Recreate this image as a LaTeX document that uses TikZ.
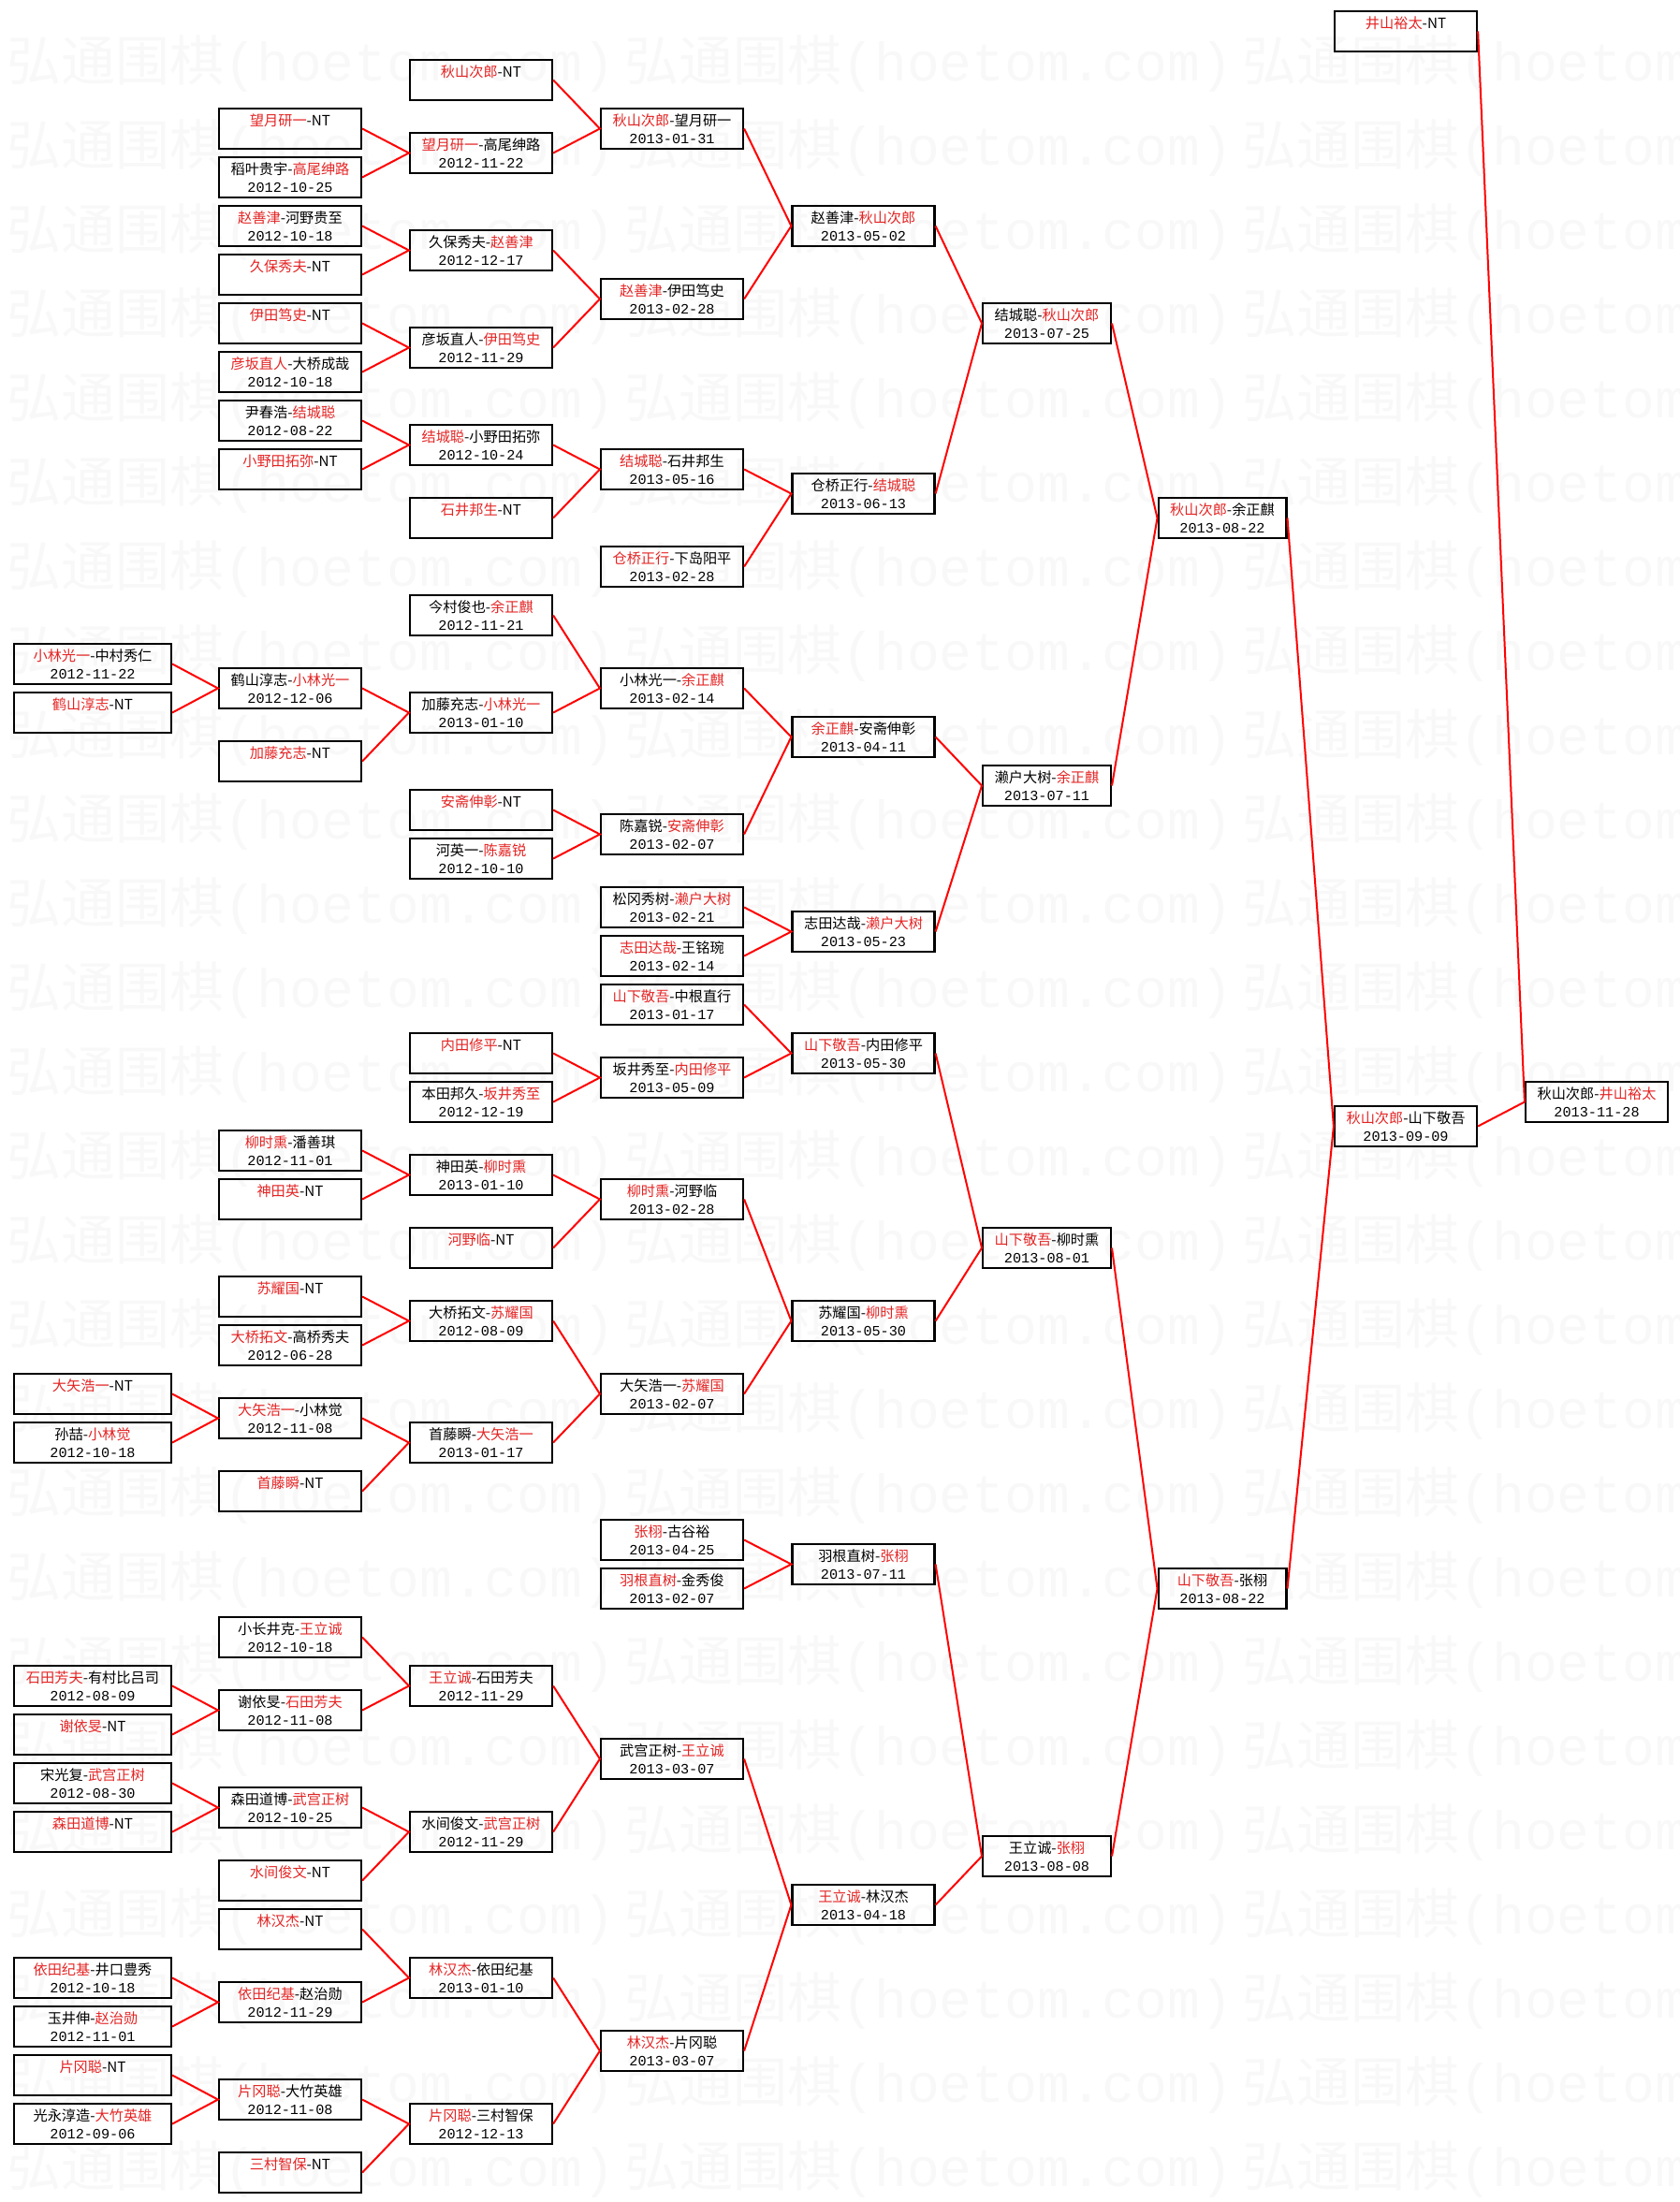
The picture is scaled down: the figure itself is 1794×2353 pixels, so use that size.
\documentclass[tikz,border=0pt]{standalone}
\usepackage{fontspec}
\setmainfont{Noto Sans CJK SC}
\newfontfamily\datefont{Liberation Mono}

\definecolor{winred}{RGB}{228,36,36}
\definecolor{wmgray}{gray}{0.974}

\newcommand\win[1]{\textcolor{winred}{#1}}
\newcommand\played[1]{{\datefont #1}}
\newcommand\bye{\\\played{\phantom{0}}}

\tikzset{
  game/.style={draw, line width=1.1pt, minimum width=76pt, minimum height=21.4pt,
    inner sep=0pt, align=center, font=\fontsize{7.6}{9.3}\selectfont},
  widegame/.style={game, minimum width=84pt},
  slimgame/.style={game, minimum width=68.4pt},
  link/.style={draw=red, line width=1pt},
  stamp/.style={anchor=west, inner sep=0pt, text=wmgray, font=\fontsize{29}{29}\selectfont},
}

\begin{document}
\begin{tikzpicture}[x=0.5pt,y=-0.5pt]
\useasboundingbox (0,0) rectangle (1794,2353);

% watermark
\begin{scope}
\clip (0,0) rectangle (1794,2353);
\foreach \k in {0,...,25}
  \foreach \x in {7,667,1327}
    \node[stamp] (wm\k-\x) at (\x,68+90*\k) {弘通围棋{\datefont (hoetom.com)}};
\end{scope}

% round 1
\node[widegame] (c0s26) at (99,709.5)  {\win{小林光一}-中村秀仁\\\played{2012-11-22}};
\node[widegame] (c0s28) at (99,761.5)  {\win{鹤山淳志}-NT\bye};
\node[widegame] (c0s56) at (99,1489.5) {\win{大矢浩一}-NT\bye};
\node[widegame] (c0s58) at (99,1541.5) {孙喆-\win{小林觉}\\\played{2012-10-18}};
\node[widegame] (c0s68) at (99,1801.5) {\win{石田芳夫}-有村比吕司\\\played{2012-08-09}};
\node[widegame] (c0s70) at (99,1853.5) {\win{谢依旻}-NT\bye};
\node[widegame] (c0s72) at (99,1905.5) {宋光复-\win{武宫正树}\\\played{2012-08-30}};
\node[widegame] (c0s74) at (99,1957.5) {\win{森田道博}-NT\bye};
\node[widegame] (c0s80) at (99,2113.5) {\win{依田纪基}-井口豊秀\\\played{2012-10-18}};
\node[widegame] (c0s82) at (99,2165.5) {玉井伸-\win{赵治勋}\\\played{2012-11-01}};
\node[widegame] (c0s84) at (99,2217.5) {\win{片冈聪}-NT\bye};
\node[widegame] (c0s86) at (99,2269.5) {光永淳造-\win{大竹英雄}\\\played{2012-09-06}};

% round 2
\node[game] (c1s4)  at (310,137.5)  {\win{望月研一}-NT\bye};
\node[game] (c1s6)  at (310,189.5)  {稻叶贵宇-\win{高尾绅路}\\\played{2012-10-25}};
\node[game] (c1s8)  at (310,241.5)  {\win{赵善津}-河野贵至\\\played{2012-10-18}};
\node[game] (c1s10) at (310,293.5)  {\win{久保秀夫}-NT\bye};
\node[game] (c1s12) at (310,345.5)  {\win{伊田笃史}-NT\bye};
\node[game] (c1s14) at (310,397.5)  {\win{彦坂直人}-大桥成哉\\\played{2012-10-18}};
\node[game] (c1s16) at (310,449.5)  {尹春浩-\win{结城聪}\\\played{2012-08-22}};
\node[game] (c1s18) at (310,501.5)  {\win{小野田拓弥}-NT\bye};
\node[game] (c1s27) at (310,735.5)  {鹤山淳志-\win{小林光一}\\\played{2012-12-06}};
\node[game] (c1s30) at (310,813.5)  {\win{加藤充志}-NT\bye};
\node[game] (c1s46) at (310,1229.5) {\win{柳时熏}-潘善琪\\\played{2012-11-01}};
\node[game] (c1s48) at (310,1281.5) {\win{神田英}-NT\bye};
\node[game] (c1s52) at (310,1385.5) {\win{苏耀国}-NT\bye};
\node[game] (c1s54) at (310,1437.5) {\win{大桥拓文}-高桥秀夫\\\played{2012-06-28}};
\node[game] (c1s57) at (310,1515.5) {\win{大矢浩一}-小林觉\\\played{2012-11-08}};
\node[game] (c1s60) at (310,1593.5) {\win{首藤瞬}-NT\bye};
\node[game] (c1s66) at (310,1749.5) {小长井克-\win{王立诚}\\\played{2012-10-18}};
\node[game] (c1s69) at (310,1827.5) {谢依旻-\win{石田芳夫}\\\played{2012-11-08}};
\node[game] (c1s73) at (310,1931.5) {森田道博-\win{武宫正树}\\\played{2012-10-25}};
\node[game] (c1s76) at (310,2009.5) {\win{水间俊文}-NT\bye};
\node[game] (c1s78) at (310,2061.5) {\win{林汉杰}-NT\bye};
\node[game] (c1s81) at (310,2139.5) {\win{依田纪基}-赵治勋\\\played{2012-11-29}};
\node[game] (c1s85) at (310,2243.5) {\win{片冈聪}-大竹英雄\\\played{2012-11-08}};
\node[game] (c1s88) at (310,2321.5) {\win{三村智保}-NT\bye};

% round 3
\node[game] (c2s2)  at (514,85.5)   {\win{秋山次郎}-NT\bye};
\node[game] (c2s5)  at (514,163.5)  {\win{望月研一}-高尾绅路\\\played{2012-11-22}};
\node[game] (c2s9)  at (514,267.5)  {久保秀夫-\win{赵善津}\\\played{2012-12-17}};
\node[game] (c2s13) at (514,371.5)  {彦坂直人-\win{伊田笃史}\\\played{2012-11-29}};
\node[game] (c2s17) at (514,475.5)  {\win{结城聪}-小野田拓弥\\\played{2012-10-24}};
\node[game] (c2s20) at (514,553.5)  {\win{石井邦生}-NT\bye};
\node[game] (c2s24) at (514,657.5)  {今村俊也-\win{余正麒}\\\played{2012-11-21}};
\node[game] (c2s28) at (514,761.5)  {加藤充志-\win{小林光一}\\\played{2013-01-10}};
\node[game] (c2s32) at (514,865.5)  {\win{安斋伸彰}-NT\bye};
\node[game] (c2s34) at (514,917.5)  {河英一-\win{陈嘉锐}\\\played{2012-10-10}};
\node[game] (c2s42) at (514,1125.5) {\win{内田修平}-NT\bye};
\node[game] (c2s44) at (514,1177.5) {本田邦久-\win{坂井秀至}\\\played{2012-12-19}};
\node[game] (c2s47) at (514,1255.5) {神田英-\win{柳时熏}\\\played{2013-01-10}};
\node[game] (c2s50) at (514,1333.5) {\win{河野临}-NT\bye};
\node[game] (c2s53) at (514,1411.5) {大桥拓文-\win{苏耀国}\\\played{2012-08-09}};
\node[game] (c2s58) at (514,1541.5) {首藤瞬-\win{大矢浩一}\\\played{2013-01-17}};
\node[game] (c2s68) at (514,1801.5) {\win{王立诚}-石田芳夫\\\played{2012-11-29}};
\node[game] (c2s74) at (514,1957.5) {水间俊文-\win{武宫正树}\\\played{2012-11-29}};
\node[game] (c2s80) at (514,2113.5) {\win{林汉杰}-依田纪基\\\played{2013-01-10}};
\node[game] (c2s86) at (514,2269.5) {\win{片冈聪}-三村智保\\\played{2012-12-13}};

% round 4
\node[game] (c3s4)  at (718,137.5)  {\win{秋山次郎}-望月研一\\\played{2013-01-31}};
\node[game] (c3s11) at (718,319.5)  {\win{赵善津}-伊田笃史\\\played{2013-02-28}};
\node[game] (c3s18) at (718,501.5)  {\win{结城聪}-石井邦生\\\played{2013-05-16}};
\node[game] (c3s22) at (718,605.5)  {\win{仓桥正行}-下岛阳平\\\played{2013-02-28}};
\node[game] (c3s27) at (718,735.5)  {小林光一-\win{余正麒}\\\played{2013-02-14}};
\node[game] (c3s33) at (718,891.5)  {陈嘉锐-\win{安斋伸彰}\\\played{2013-02-07}};
\node[game] (c3s36) at (718,969.5)  {松冈秀树-\win{濑户大树}\\\played{2013-02-21}};
\node[game] (c3s38) at (718,1021.5) {\win{志田达哉}-王铭琬\\\played{2013-02-14}};
\node[game] (c3s40) at (718,1073.5) {\win{山下敬吾}-中根直行\\\played{2013-01-17}};
\node[game] (c3s43) at (718,1151.5) {坂井秀至-\win{内田修平}\\\played{2013-05-09}};
\node[game] (c3s48) at (718,1281.5) {\win{柳时熏}-河野临\\\played{2013-02-28}};
\node[game] (c3s56) at (718,1489.5) {大矢浩一-\win{苏耀国}\\\played{2013-02-07}};
\node[game] (c3s62) at (718,1645.5) {\win{张栩}-古谷裕\\\played{2013-04-25}};
\node[game] (c3s64) at (718,1697.5) {\win{羽根直树}-金秀俊\\\played{2013-02-07}};
\node[game] (c3s71) at (718,1879.5) {武宫正树-\win{王立诚}\\\played{2013-03-07}};
\node[game] (c3s83) at (718,2191.5) {\win{林汉杰}-片冈聪\\\played{2013-03-07}};

% round 5
\node[game] (c4s8)  at (922.5,241.5)  {赵善津-\win{秋山次郎}\\\played{2013-05-02}};
\node[game] (c4s19) at (922.5,527.5)  {仓桥正行-\win{结城聪}\\\played{2013-06-13}};
\node[game] (c4s29) at (922.5,787.5)  {\win{余正麒}-安斋伸彰\\\played{2013-04-11}};
\node[game] (c4s37) at (922.5,995.5)  {志田达哉-\win{濑户大树}\\\played{2013-05-23}};
\node[game] (c4s42) at (922.5,1125.5) {\win{山下敬吾}-内田修平\\\played{2013-05-30}};
\node[game] (c4s53) at (922.5,1411.5) {苏耀国-\win{柳时熏}\\\played{2013-05-30}};
\node[game] (c4s63) at (922.5,1671.5) {羽根直树-\win{张栩}\\\played{2013-07-11}};
\node[game] (c4s77) at (922.5,2035.5) {\win{王立诚}-林汉杰\\\played{2013-04-18}};

% round 6 to final
\node[slimgame] (c5s12) at (1118.5,345.5)  {结城聪-\win{秋山次郎}\\\played{2013-07-25}};
\node[slimgame] (c5s31) at (1118.5,839.5)  {濑户大树-\win{余正麒}\\\played{2013-07-11}};
\node[slimgame] (c5s50) at (1118.5,1333.5) {\win{山下敬吾}-柳时熏\\\played{2013-08-01}};
\node[slimgame] (c5s75) at (1118.5,1983.5) {王立诚-\win{张栩}\\\played{2013-08-08}};
\node[slimgame] (c6s20) at (1306,553.5)  {\win{秋山次郎}-余正麒\\\played{2013-08-22}};
\node[slimgame] (c6s64) at (1306,1697.5) {\win{山下敬吾}-张栩\\\played{2013-08-22}};
\node[game] (c7s0)  at (1502,33.5)   {\win{井山裕太}-NT\bye};
\node[game] (c7s45) at (1502,1203.5) {\win{秋山次郎}-山下敬吾\\\played{2013-09-09}};
\node[game] (c8s44) at (1706,1177.5) {秋山次郎-\win{井山裕太}\\\played{2013-11-28}};

% links, child -- parent -- child
\draw[link] (c0s26.east) -- (c1s27.west) -- (c0s28.east);
\draw[link] (c0s56.east) -- (c1s57.west) -- (c0s58.east);
\draw[link] (c0s68.east) -- (c1s69.west) -- (c0s70.east);
\draw[link] (c0s72.east) -- (c1s73.west) -- (c0s74.east);
\draw[link] (c0s80.east) -- (c1s81.west) -- (c0s82.east);
\draw[link] (c0s84.east) -- (c1s85.west) -- (c0s86.east);

\draw[link] (c1s4.east)  -- (c2s5.west)  -- (c1s6.east);
\draw[link] (c1s8.east)  -- (c2s9.west)  -- (c1s10.east);
\draw[link] (c1s12.east) -- (c2s13.west) -- (c1s14.east);
\draw[link] (c1s16.east) -- (c2s17.west) -- (c1s18.east);
\draw[link] (c1s27.east) -- (c2s28.west) -- (c1s30.east);
\draw[link] (c1s46.east) -- (c2s47.west) -- (c1s48.east);
\draw[link] (c1s52.east) -- (c2s53.west) -- (c1s54.east);
\draw[link] (c1s57.east) -- (c2s58.west) -- (c1s60.east);
\draw[link] (c1s66.east) -- (c2s68.west) -- (c1s69.east);
\draw[link] (c1s73.east) -- (c2s74.west) -- (c1s76.east);
\draw[link] (c1s78.east) -- (c2s80.west) -- (c1s81.east);
\draw[link] (c1s85.east) -- (c2s86.west) -- (c1s88.east);

\draw[link] (c2s2.east)  -- (c3s4.west)  -- (c2s5.east);
\draw[link] (c2s9.east)  -- (c3s11.west) -- (c2s13.east);
\draw[link] (c2s17.east) -- (c3s18.west) -- (c2s20.east);
\draw[link] (c2s24.east) -- (c3s27.west) -- (c2s28.east);
\draw[link] (c2s32.east) -- (c3s33.west) -- (c2s34.east);
\draw[link] (c2s42.east) -- (c3s43.west) -- (c2s44.east);
\draw[link] (c2s47.east) -- (c3s48.west) -- (c2s50.east);
\draw[link] (c2s53.east) -- (c3s56.west) -- (c2s58.east);
\draw[link] (c2s68.east) -- (c3s71.west) -- (c2s74.east);
\draw[link] (c2s80.east) -- (c3s83.west) -- (c2s86.east);

\draw[link] (c3s4.east)  -- (c4s8.west)  -- (c3s11.east);
\draw[link] (c3s18.east) -- (c4s19.west) -- (c3s22.east);
\draw[link] (c3s27.east) -- (c4s29.west) -- (c3s33.east);
\draw[link] (c3s36.east) -- (c4s37.west) -- (c3s38.east);
\draw[link] (c3s40.east) -- (c4s42.west) -- (c3s43.east);
\draw[link] (c3s48.east) -- (c4s53.west) -- (c3s56.east);
\draw[link] (c3s62.east) -- (c4s63.west) -- (c3s64.east);
\draw[link] (c3s71.east) -- (c4s77.west) -- (c3s83.east);

\draw[link] (c4s8.east)  -- (c5s12.west) -- (c4s19.east);
\draw[link] (c4s29.east) -- (c5s31.west) -- (c4s37.east);
\draw[link] (c4s42.east) -- (c5s50.west) -- (c4s53.east);
\draw[link] (c4s63.east) -- (c5s75.west) -- (c4s77.east);

\draw[link] (c5s12.east) -- (c6s20.west) -- (c5s31.east);
\draw[link] (c5s50.east) -- (c6s64.west) -- (c5s75.east);
\draw[link] (c6s20.east) -- (c7s45.west) -- (c6s64.east);
\draw[link] (c7s0.east)  -- (c8s44.west) -- (c7s45.east);

\end{tikzpicture}
\end{document}
